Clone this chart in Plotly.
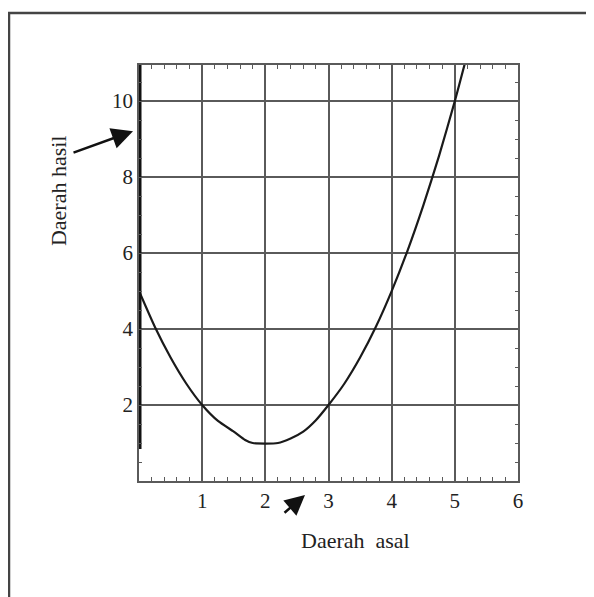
import plotly.graph_objects as go

# Data
x_vals = [0, 0.25, 0.5, 0.75, 1.0, 1.25, 1.5, 1.68, 1.8, 2.2, 2.4, 2.6, 2.8, 3.0,
          3.25, 3.5, 3.75, 4.0, 4.25, 4.5, 4.75, 5.0, 5.16]
y_vals = [5.0, 4.06, 3.25, 2.56, 2.0, 1.58, 1.3, 1.08, 1.0, 1.0, 1.12, 1.3, 1.6, 2.0,
          2.56, 3.25, 4.06, 5.0, 6.06, 7.25, 8.56, 10.0, 11.0]
range_bar_x = [0, 0]
range_bar_y = [0.84, 10.95]
x_ticks = [1, 2, 3, 4, 5, 6]
y_ticks = [2, 4, 6, 8, 10]
x_title = "Daerah\u00a0\u00a0asal"
y_title = "Daerah hasil"

FONT = "Liberation Serif"
GRID = "#5a5a5a"

fig = go.Figure()
fig.add_trace(go.Scatter(x=x_vals, y=y_vals, mode="lines",
                         line=dict(color="#1a1a1a", width=2.2, shape="spline", smoothing=0.6),
                         showlegend=False, hoverinfo="skip"))
fig.add_trace(go.Scatter(x=range_bar_x, y=range_bar_y, mode="lines",
                         line=dict(color="#111111", width=5),
                         cliponaxis=False, showlegend=False, hoverinfo="skip"))

fig.update_layout(
    width=586, height=589,
    margin=dict(l=131, r=76, t=57, b=116),
    paper_bgcolor="white", plot_bgcolor="white",
    font=dict(family=FONT, size=21, color="#222"),
    xaxis=dict(range=[0, 6], tickvals=x_ticks, showgrid=True, gridcolor=GRID,
               gridwidth=1.5, showline=True, linecolor=GRID, linewidth=1.5,
               mirror="ticks", ticks="inside", ticklen=0, zeroline=False,
               tickfont=dict(family=FONT, size=21, color="#222"),
               minor=dict(tick0=0, dtick=0.2, ticks="inside", ticklen=4,
                          tickcolor=GRID, tickwidth=1.2, showgrid=False)),
    yaxis=dict(range=[0, 10.95], tickvals=y_ticks, showgrid=True, gridcolor=GRID,
               gridwidth=1.5, showline=True, linecolor=GRID, linewidth=1.5,
               mirror="ticks", ticks="inside", ticklen=0, zeroline=False,
               tickfont=dict(family=FONT, size=21, color="#222"),
               minor=dict(tick0=0, dtick=0.5, ticks="inside", ticklen=3,
                          tickcolor=GRID, tickwidth=1.2, showgrid=False)),
    shapes=[dict(type="rect", xref="paper", yref="paper",
                 x0=-0.343, x1=1.3, y0=-0.35, y1=1.125,
                 line=dict(color="#444", width=2.5), fillcolor="rgba(0,0,0,0)",
                 layer="below")],
    annotations=[
        dict(text=x_title, xref="paper", yref="paper", x=0.57, y=-0.142,
             showarrow=False, font=dict(family=FONT, size=22, color="#222"),
             xanchor="center", yanchor="middle"),
        dict(text=y_title, xref="paper", yref="paper", x=-0.214, y=0.699,
             showarrow=False, textangle=-90,
             font=dict(family=FONT, size=22, color="#222"),
             xanchor="center", yanchor="middle"),
        dict(text="", xref="paper", yref="paper", x=-0.0158, y=0.841, ax=-61, ay=22,
             showarrow=True, arrowhead=2, arrowsize=1.7, arrowwidth=2.5,
             arrowcolor="#111"),
        dict(text="", xref="paper", yref="paper", x=0.438, y=-0.0337, ax=-22, ay=19,
             showarrow=True, arrowhead=2, arrowsize=1.6, arrowwidth=2.5,
             arrowcolor="#111"),
    ],
)

fig.write_html("out.html")
